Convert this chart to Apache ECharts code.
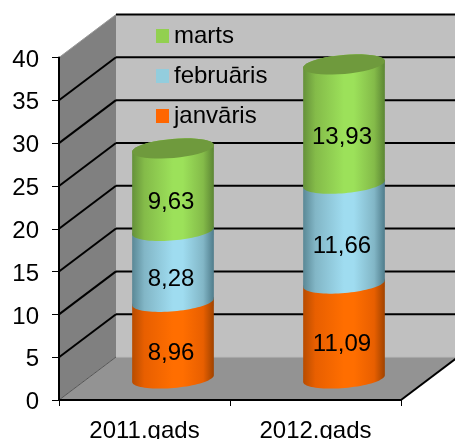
<!DOCTYPE html>
<html>
<head>
<meta charset="utf-8">
<script src="https://cdn.jsdelivr.net/npm/echarts@6/dist/echarts.min.js"></script>
<style>
  html, body { margin: 0; padding: 0; background: #fff; overflow: hidden; }
  #chart { width: 455px; height: 439px; }
</style>
</head>
<body>
<div id="chart"></div>
<script>
var categories = ['2011.gads', '2012.gads'];
var janvaris = [8.96, 11.09];
var februaris = [8.28, 11.66];
var marts = [9.63, 13.93];
var yTicks = [0, 5, 10, 15, 20, 25, 30, 35, 40];

var myChart = echarts.init(document.getElementById('chart'));

// 3D look of the excel chart: how far the back wall is pushed from the axes
var depthX = 57;
var depthY = -43;
var radiusA = 41;
var radiusB = 9.5;
var tilt = -5 * Math.PI / 180;
var font = '"Liberation Sans", Arial, sans-serif';

function ellipsePoints(cx, cy, from, to) {
  var pts = [];
  for (var i = 0; i <= 40; i++) {
    var t = from + (to - from) * i / 40;
    var ex = radiusA * Math.cos(t);
    var ey = radiusB * Math.sin(t);
    pts.push([
      cx + ex * Math.cos(tilt) - ey * Math.sin(tilt),
      cy + ex * Math.sin(tilt) + ey * Math.cos(tilt)
    ]);
  }
  return pts;
}

function renderWalls(params, api) {
  var rect = params.coordSys;
  var x0 = rect.x;
  var x1 = rect.x + rect.width;
  var y0 = api.coord([0, 0])[1];
  var y40 = api.coord([0, yTicks[yTicks.length - 1]])[1];
  var children = [
    { type: 'rect', shape: { x: x0 + depthX, y: y40 + depthY, width: rect.width, height: y0 - y40 },
      style: { fill: '#c0c0c0' } },
    { type: 'polygon', shape: { points: [[x0, y0], [x0 + depthX, y0 + depthY], [x0 + depthX, y40 + depthY], [x0, y40]] },
      style: { fill: '#808080' } },
    { type: 'polygon', shape: { points: [[x0, y0], [x1, y0], [x1 + depthX, y0 + depthY], [x0 + depthX, y0 + depthY]] },
      style: { fill: '#939393' } }
  ];
  yTicks.forEach(function (v) {
    var y = api.coord([0, v])[1];
    var isEdge = v === 0;
    var isTop = v === yTicks[yTicks.length - 1];
    children.push({
      type: 'polyline',
      shape: { points: [[x0, y], [x0 + depthX, y + depthY]] },
      style: { fill: null, stroke: isEdge ? '#555' : (isTop ? '#999' : '#000'), lineWidth: isEdge || isTop ? 1 : 2 }
    });
    children.push({
      type: 'polyline',
      shape: { points: [[x0 + depthX, y + depthY], [x1 + depthX, y + depthY]] },
      style: { fill: null, stroke: isEdge ? '#bbb' : '#000', lineWidth: isEdge ? 1 : 2 }
    });
  });
  children.push({
    type: 'polyline',
    shape: { points: [[x1, y0], [x1 + depthX, y0 + depthY]] },
    style: { fill: null, stroke: '#000', lineWidth: 2 }
  });
  return { type: 'group', children: children };
}

function cylinderFill(c) {
  return {
    type: 'linear', x: 0, y: 0, x2: 1, y2: 0,
    colorStops: [
      { offset: 0, color: c.left },
      { offset: 0.15, color: c.mid },
      { offset: 0.5, color: c.light },
      { offset: 0.62, color: c.light },
      { offset: 0.87, color: c.mid },
      { offset: 1, color: c.right }
    ]
  };
}

function cylinderSeries(name, values, bases, c, isTop) {
  return {
    name: name,
    type: 'custom',
    coordinateSystem: 'cartesian2d',
    clip: false,
    z: 3,
    itemStyle: { color: c.legend },
    data: values.map(function (v, i) { return [i, bases[i], v]; }),
    renderItem: function (params, api) {
      var base = api.value(1);
      var val = api.value(2);
      var low = api.coord([api.value(0), base]);
      var high = api.coord([api.value(0), base + val]);
      var mid = api.coord([api.value(0), base + val / 2]);
      var cx = low[0] + depthX / 2;
      var lowY = low[1] + depthY / 2;
      var highY = high[1] + depthY / 2;
      var pts = ellipsePoints(cx, lowY, 0, Math.PI).concat(ellipsePoints(cx, highY, Math.PI, 2 * Math.PI));
      var children = [
        { type: 'polygon', shape: { points: pts }, style: { fill: cylinderFill(c) } }
      ];
      if (isTop) {
        children.push({
          type: 'polygon',
          shape: { points: ellipsePoints(cx, highY, 0, 2 * Math.PI) },
          style: { fill: c.cap }
        });
      }
      children.push({
        type: 'text',
        z2: 10,
        style: {
          x: cx - 2,
          y: mid[1] + depthY / 2 + 13,
          text: val.toFixed(2).replace('.', ','),
          fill: '#000',
          font: '24px ' + font,
          align: 'center',
          verticalAlign: 'middle'
        }
      });
      return { type: 'group', children: children };
    }
  };
}

var janColors = { legend: '#ff6600', left: '#b84c00', mid: '#e85f00', light: '#ff6e00', right: '#a04300', cap: '#d85600' };
var febColors = { legend: '#93cddd', left: '#5a8896', mid: '#82b6c6', light: '#9fdcf0', right: '#4f7c8b', cap: '#7ba9b7' };
var marColors = { legend: '#92d050', left: '#65913a', mid: '#84bb49', light: '#9ce15a', right: '#5c8634', cap: '#6f9a3d' };

var febBase = janvaris;
var marBase = janvaris.map(function (v, i) { return v + februaris[i]; });
var janBase = janvaris.map(function () { return 0; });

var option = {
  animation: false,
  textStyle: { fontFamily: font },
  grid: { left: 59, right: 54, top: 57.5, bottom: 39, outerBoundsMode: 'none' },
  legend: {
    data: ['marts', 'februāris', 'janvāris'],
    orient: 'vertical',
    left: 156,
    top: 24,
    padding: 0,
    itemWidth: 13,
    itemHeight: 14,
    itemGap: 16,
    icon: 'rect',
    textStyle: { color: '#000', fontSize: 24, fontFamily: font }
  },
  xAxis: {
    type: 'category',
    data: categories,
    z: 5,
    axisLine: { lineStyle: { color: '#000', width: 2 } },
    axisTick: { show: true, alignWithLabel: false, length: 6, lineStyle: { color: '#000', width: 1 } },
    axisLabel: { color: '#000', fontSize: 24, fontFamily: font, margin: 19 },
    splitLine: { show: false }
  },
  yAxis: {
    type: 'value',
    min: 0,
    max: 40,
    interval: 5,
    z: 5,
    axisLine: { show: true, lineStyle: { color: '#000', width: 2 } },
    axisTick: { show: true, length: 7, lineStyle: { color: '#000', width: 1 } },
    axisLabel: {
      color: '#000',
      margin: 20,
      formatter: '{a|{value}}',
      // excel prints the numbers a bit under the tick
      rich: { a: { color: '#000', fontSize: 24, fontFamily: font, padding: [5, 0, 0, 0] } }
    },
    splitLine: { show: false }
  },
  series: [
    {
      type: 'custom',
      coordinateSystem: 'cartesian2d',
      clip: false,
      z: 1,
      silent: true,
      data: [[0, 0]],
      renderItem: renderWalls
    },
    cylinderSeries('janvāris', janvaris, janBase, janColors, false),
    cylinderSeries('februāris', februaris, febBase, febColors, false),
    cylinderSeries('marts', marts, marBase, marColors, true)
  ]
};

option && myChart.setOption(option);
</script>
</body>
</html>
